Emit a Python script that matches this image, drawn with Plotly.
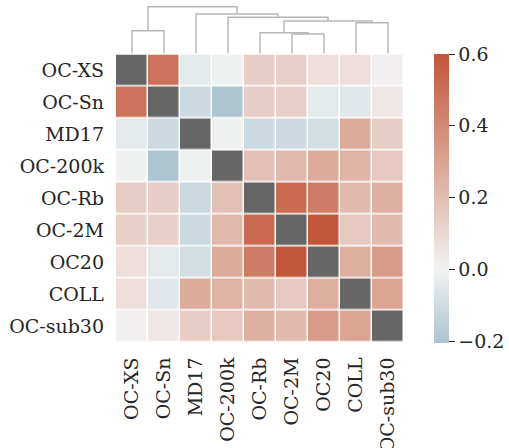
import plotly.graph_objects as go

# ---------------- data ----------------
labels = ["OC-XS", "OC-Sn", "MD17", "OC-200k", "OC-Rb", "OC-2M", "OC20", "COLL", "OC-sub30"]

# upper-triangle correlations (row i, col j > i)
row_OC_XS   = [0.49, -0.04, -0.01, 0.14, 0.13, 0.07, 0.07, 0.01]
row_OC_Sn   = [-0.11, -0.20, 0.14, 0.13, -0.04, -0.05, 0.04]
row_MD17    = [-0.01, -0.11, -0.11, -0.09, 0.27, 0.14]
row_OC_200k = [0.19, 0.22, 0.27, 0.24, 0.16]
row_OC_Rb   = [0.52, 0.45, 0.21, 0.25]
row_OC_2M   = [0.60, 0.16, 0.21]
row_OC20    = [0.26, 0.33]
row_COLL    = [0.30]

colorbar_ticks = [-0.2, 0.0, 0.2, 0.4, 0.6]
z_min, z_max = -0.205, 0.6

# dendrogram merges: (left member, right member, height); members are leaf
# indices (int) or earlier merge ids ("m#")
merges = [
    (5, 6, 0.414),          # m0
    (4, "m0", 0.442),       # m1
    (0, 1, 0.485),          # m2
    (7, 8, 0.657),          # m3
    ("m1", "m3", 0.693),    # m4
    (3, "m4", 0.773),       # m5
    (2, "m5", 0.843),       # m6
    ("m2", "m6", 1.0),      # m7
]

# ---------------- build matrix ----------------
upper = [row_OC_XS, row_OC_Sn, row_MD17, row_OC_200k, row_OC_Rb, row_OC_2M, row_OC20, row_COLL]
n = len(labels)
z = [[None] * n for _ in range(n)]
for i, row in enumerate(upper):
    for k, v in enumerate(row):
        j = i + 1 + k
        z[i][j] = v
        z[j][i] = v
diag = [[1 if i == j else None for j in range(n)] for i in range(n)]

# ---------------- layout helpers ----------------
W, H = 509, 448
def fx(p): return p / W
def fy(p): return 1 - p / H

FONT = "DejaVu Serif"
TXT = "#262626"
FS = 19

def norm(v): return (v - z_min) / (z_max - z_min)
colorscale = [
    [0.0, "#abc4d0"],
    [norm(0.0), "#f2f2f2"],
    [norm(0.3), "#dba392"],
    [1.0, "#c3553a"],
]

fig = go.Figure()
xs = list(range(n))
fig.add_trace(go.Heatmap(
    z=z, x=xs, y=xs, colorscale=colorscale, zmin=z_min, zmax=z_max,
    xgap=1.5, ygap=1.5, hoverongaps=False,
    colorbar=dict(
        x=fx(434), xanchor="left", y=fy(343), yanchor="bottom",
        len=289 / H, lenmode="fraction", thickness=15, thicknessmode="pixels",
        xpad=0, ypad=0, outlinewidth=0,
        tickvals=colorbar_ticks, tickformat=".1f",
        ticks="outside", ticklen=6, tickwidth=1.3, tickcolor=TXT,
        tickfont=dict(family=FONT, size=FS, color=TXT),
    ),
))
fig.add_trace(go.Heatmap(
    z=diag, x=xs, y=xs, colorscale=[[0, "#666666"], [1, "#666666"]],
    showscale=False, xgap=1.5, ygap=1.5, hoverongaps=False,
))

# dendrogram lines
pos = {}
hgt = {}
for i in range(n):
    pos[i] = float(i)
    hgt[i] = 0.0
dx, dy = [], []
for m, (a, b, h) in enumerate(merges):
    xa, xb = pos[a], pos[b]
    ya, yb = hgt[a], hgt[b]
    dx += [xa, xa, xb, xb, None]
    dy += [ya, h, h, yb, None]
    pos[f"m{m}"] = (xa + xb) / 2
    hgt[f"m{m}"] = h
fig.add_trace(go.Scatter(
    x=dx, y=dy, mode="lines", yaxis="y2", xaxis="x",
    line=dict(color="#b8b8b8", width=1.5), hoverinfo="skip", showlegend=False,
))

fig.update_layout(
    width=W, height=H, margin=dict(l=0, r=0, t=0, b=0),
    paper_bgcolor="white", plot_bgcolor="white", showlegend=False,
    font=dict(family=FONT, size=FS, color=TXT),
    xaxis=dict(
        domain=[fx(116), fx(404)], range=[-0.5, n - 0.5], anchor="y",
        tickvals=xs, ticktext=labels, tickangle=-90, ticks="",
        showgrid=False, zeroline=False, showline=False, automargin=False,
        ticklabelstandoff=10, tickfont=dict(family=FONT, size=FS, color=TXT),
    ),
    yaxis=dict(
        domain=[fy(342.7), fy(54.5)], range=[n - 0.5, -0.5], anchor="x",
        tickvals=xs, ticktext=labels, ticks="",
        showgrid=False, zeroline=False, showline=False, automargin=False,
        ticklabelstandoff=11, tickfont=dict(family=FONT, size=FS, color=TXT),
    ),
    yaxis2=dict(
        domain=[fy(53.3), fy(4)], range=[0, 49.3 / 46.6], anchor="x",
        visible=False, showgrid=False, zeroline=False,
    ),
)

fig.write_html(
    "out.html",
    config={"displayModeBar": False},
    post_script="document.body.style.margin='0';document.body.style.overflow='hidden';",
)
